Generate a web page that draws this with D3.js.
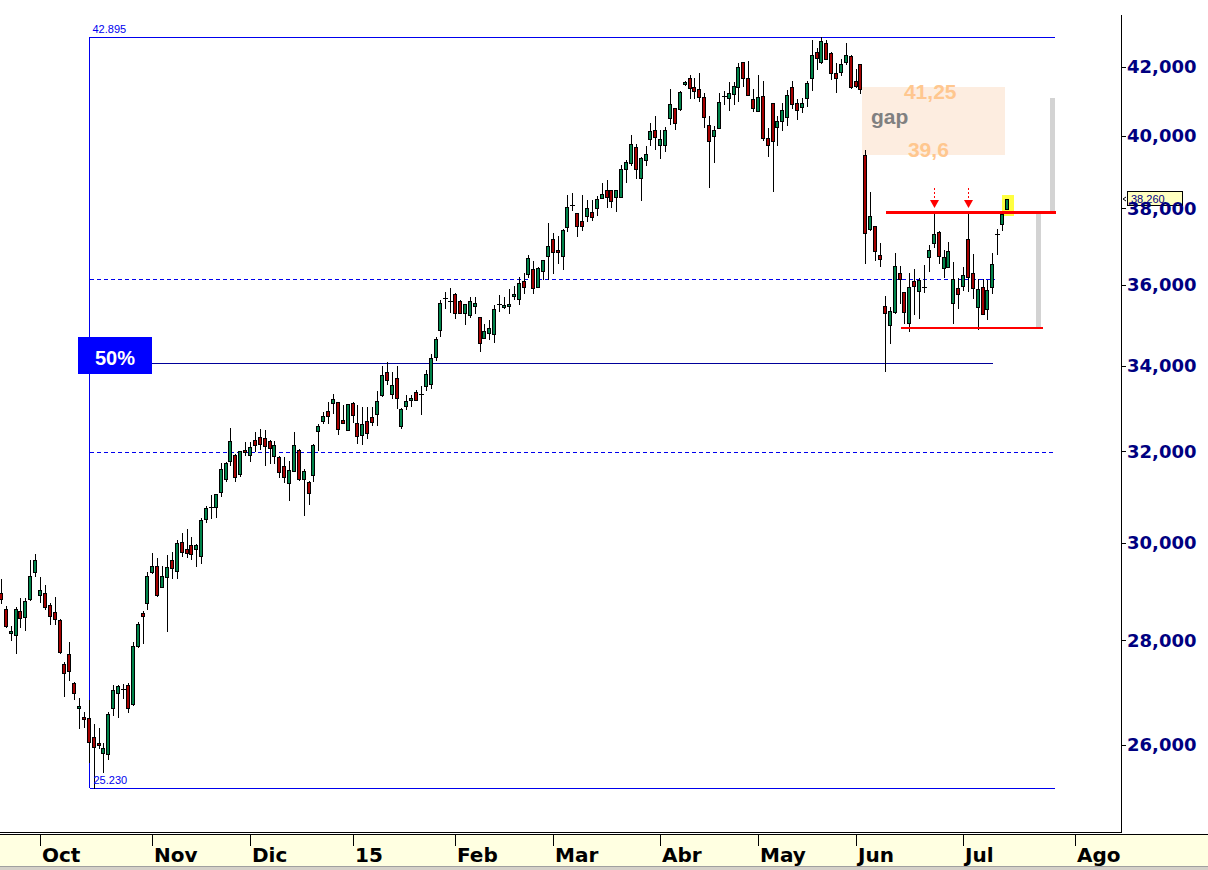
<!DOCTYPE html>
<html><head><meta charset="utf-8">
<script src="https://cdn.jsdelivr.net/npm/d3@7"></script>
<style>html,body{margin:0;padding:0;background:#fff;overflow:hidden}</style>
</head><body>
<svg id="chart" width="1208" height="870"></svg>
<script>
// ---------- DATA ----------
const openP = [28950,28630,28150,28110,28590,28470,28830,29390,28910,28950,
28710,28570,28410,27540,27730,27170,26690,26520,26500,26150,
26040,25860,25840,26690,26980,27050,27130,26770,27890,28550,
28750,29390,29510,29080,29280,29640,29410,30020,29870,29950,
29870,29720,30510,30750,30770,31100,31380,31790,31920,31500,
32040,31920,32260,32330,32310,32240,31900,31880,31670,31300,
31560,32040,31380,31320,31470,32470,32700,32930,33120,33140,
32720,32490,33120,32650,32380,32700,32790,32860,33310,33850,
33330,33710,32580,33050,33190,33380,33310,33520,33570,34210,
34870,35670,35600,35770,35600,35290,35240,35470,35190,34680,
34800,34770,35520,35440,35470,35720,35650,36100,36280,36410,
35950,36360,36750,37190,36900,36750,37510,38100,37880,37670,
37800,37910,38010,38280,38500,38500,38310,38310,39080,39240,
39690,38830,39330,39920,40170,39750,39750,40510,40800,40770,
41500,41670,41410,41350,41120,40310,40000,40230,41150,41090,
41210,41410,42150,41670,41060,40710,41150,39940,40940,40260,
40430,40540,41410,40940,40830,41090,41670,42450,42150,42720,
42420,41820,41850,42150,42330,41590,42090,39470,37450,37530,
36770,35470,35000,35320,36310,35820,35050,36100,35850,35950,
36720,37090,37380,36440,36460,35550,35920,35980,37190,36310,
35440,35950,35390,35950,37300,37590,37990];
const highP = [29240,28690,28290,28670,28850,28850,29640,29760,29280,29120,
28750,28870,28420,27580,27970,27190,26880,26620,26840,26390,
26320,26040,26620,27130,27130,27150,27170,27970,28370,28590,
29390,29780,29680,29510,29740,29810,30060,30210,30290,30120,
29980,30530,30790,31030,31060,31740,31760,32540,31940,32020,
32220,32220,32450,32510,32490,32260,32240,31890,31880,31790,
32450,32050,31610,31330,32170,32630,32910,33140,33330,33150,
33070,33100,33130,33070,33020,33020,33020,33400,34000,34090,
33850,34000,33000,33310,33310,33420,33520,33900,34290,34700,
35620,35820,35920,35800,35620,35530,35700,35700,35200,35020,
35120,35490,35750,35700,35900,35980,36200,36310,36770,36620,
36450,36650,37610,37350,37270,37440,38370,38420,37890,38370,
38230,38230,38340,38690,38780,38510,38510,39190,39330,40030,
39770,39410,39720,40370,40570,40170,40260,41350,40810,41290,
41590,41760,41670,41820,41240,40570,40280,41240,41290,41560,
41560,42120,42160,42180,41350,41760,41590,40230,40950,40570,
40940,41320,41590,41060,41090,41590,42810,42570,42895,42810,
42450,42120,42240,42720,42360,41940,42100,39610,38450,37540,
37090,35720,35440,36820,36490,35830,36310,36410,36180,36510,
37030,37850,37390,36900,37110,36590,36180,36460,37850,36800,
36150,36150,36130,36820,37450,37930,38260];
const lowP = [28750,28270,28010,27750,28270,28210,28810,29300,28770,28630,
28330,28330,27750,26920,27230,26860,26320,26340,25690,25230,
25950,25510,25750,26560,26520,26880,26620,26750,27870,27950,
28630,29370,28890,29070,28190,29260,29260,29720,29700,29660,
29510,29570,30450,30530,30550,31010,31340,31700,31340,31450,
31920,31790,32010,32060,31700,31740,31740,31430,31320,30920,
31550,31360,30600,30840,31340,32040,32650,32650,32880,32400,
32640,32480,32680,32190,32170,32310,32610,32610,33280,33570,
33240,33000,32540,32980,33050,33180,32860,33420,33470,34140,
34720,35420,35320,35170,35280,35020,35190,35290,34360,34670,
34650,34580,35340,35410,35290,35640,35520,35800,36200,35800,
35940,36150,36150,36310,36560,36410,37400,37960,37270,37430,
37670,37690,37830,38270,38040,38040,37930,38300,38720,39190,
38830,38230,39190,39750,39630,39380,39580,40340,40200,40740,
41470,41090,41090,41000,40260,38580,39270,40220,40920,40740,
40920,41000,41440,41170,40710,40700,39890,39440,38470,39750,
40170,40310,40800,40480,40690,40860,41320,41940,42120,42230,
41640,41260,41760,42090,41380,41410,41240,36560,37430,36640,
36490,33880,34550,35290,35550,35050,34850,35270,35170,35820,
36360,36980,36560,36200,36450,35050,35420,35870,35850,35670,
34900,35260,35140,35800,36800,37430,37980];
const closeP = [28830,28290,28190,28630,28450,28790,29300,29640,29020,28670,
28490,28430,27770,27360,27400,26980,26730,26490,26060,25970,
26000,25950,26580,27040,27110,27060,26690,27890,28330,28490,
29300,29510,28910,29300,29490,29470,30000,29810,29780,29760,
29950,30490,30750,30760,31050,31610,31740,32240,31430,32010,
31990,32100,32150,32170,32130,32080,32150,31540,31430,31590,
32150,31380,31560,31080,32150,32580,32820,32820,33210,32510,
32650,33090,32840,32350,32630,32420,32680,33160,33780,33660,
33540,33240,32980,33160,33240,33190,33320,33800,34190,34650,
35550,35680,35590,35290,35290,35520,35600,35550,34550,34850,
34920,35390,35530,35490,35520,35770,36050,35950,36690,35920,
36440,36640,37010,36850,36850,37430,38040,38090,37530,37530,
38010,37770,38260,38390,38310,38200,38500,39080,39270,39770,
39080,39380,39490,40140,39970,39920,40170,40920,40370,41260,
41560,41380,41290,41120,40540,39860,40170,40970,41140,41240,
41440,42000,41670,41180,40800,41120,39940,39750,39860,40430,
40740,41180,40920,40740,40940,41530,42360,42270,42780,42240,
41820,41670,42090,42360,41410,41440,41350,37350,37800,36880,
36670,35290,35340,36490,36150,35320,35950,35980,36130,35960,
36900,37320,36750,36720,36880,36150,35770,36260,36200,35920,
35900,35270,35870,36540,37310,37850,38260];

const holidays = ["2014-12-25","2014-12-26","2015-01-01","2015-04-03","2015-04-06","2015-05-01"];
const firstSession = "2014-09-19";
const monthLabels = ["Oct","Nov","Dic","15","Feb","Mar","Abr","May","Jun","Jul","Ago"];
const monthStartIdx = [8,31,51,72,93,113,135,155,175,197,220];
const yTicks = [26000,28000,30000,32000,34000,36000,38000,40000,42000];
const fibHigh = 42895, fibLow = 25230, fibStartIdx = 18;
const fibRatios = [0.382, 0.5, 0.618];
const gapTop = 41410, gapBottom = 39470;
const gapLabels = ["41,25","gap","39,6"];
const resistance = 37880, support = 34920;
const projectionTop = 41090;
const arrowIdx = [191, 198];
const lastPrice = 38260;

// ---------- SESSIONS (trading days) ----------
const dates = [];
{
  const d = new Date(firstSession + "T12:00:00Z");
  while (dates.length < closeP.length) {
    const s = d.toISOString().slice(0,10);
    const wd = d.getUTCDay();
    if (wd !== 0 && wd !== 6 && !holidays.includes(s)) dates.push(s);
    d.setUTCDate(d.getUTCDate() + 1);
  }
}
const candles = dates.map((dt,i)=>({date:dt,i,o:openP[i],h:highP[i],l:lowP[i],c:closeP[i]}));

// ---------- SCALES ----------
const svg = d3.select("#chart");
const plotRight = 1121, plotTop = 15, plotBottom = 832;
const y = d3.scaleLog().domain([26000, 42000]).range([745, 67]);
const x = d3.scaleLinear().domain([0, candles.length - 1]).range([0.93, 1007]);
const px = i => Math.round(x(i));
const py = v => Math.round(y(v));

svg.append("rect").attr("width",1208).attr("height",870).attr("fill","#ffffff");

const g = svg.append("g").attr("shape-rendering","crispEdges");

// gap box
g.append("rect").attr("x", x(176.3)).attr("y", y(gapTop))
  .attr("width", x(205.6) - x(176.3)).attr("height", y(gapBottom) - y(gapTop))
  .attr("fill", "#fdede0");

// projection bars
g.append("rect").attr("x", px(215.3) - 2).attr("y", y(projectionTop))
  .attr("width", 5).attr("height", y(resistance) - y(projectionTop)).attr("fill", "#d3d3d3");
g.append("rect").attr("x", px(212.4) - 2).attr("y", y(resistance))
  .attr("width", 5).attr("height", y(support) - y(resistance)).attr("fill", "#d3d3d3");

// fibonacci frame
const fx0 = px(fibStartIdx) + 0.5, fx1 = 1055;
const blue = "#0000ee";
g.append("line").attr("x1", fx0).attr("x2", fx1).attr("y1", py(fibHigh)+0.5).attr("y2", py(fibHigh)+0.5).attr("stroke", blue);
g.append("line").attr("x1", fx0).attr("x2", fx1).attr("y1", py(fibLow)+0.5).attr("y2", py(fibLow)+0.5).attr("stroke", blue);
g.append("line").attr("x1", fx0).attr("x2", fx0).attr("y1", py(fibHigh)).attr("y2", py(fibLow)).attr("stroke", blue);
const fibLevels = fibRatios.map(r => fibHigh - r * (fibHigh - fibLow));
const fibEnds = [995, 993, 1055];
fibLevels.forEach((v, k) => {
  const ln = g.append("line").attr("x1", fx0).attr("x2", fibEnds[k])
    .attr("y1", py(v) + 0.5).attr("y2", py(v) + 0.5);
  if (k === 1) ln.attr("stroke", "#00009a");
  else ln.attr("stroke", blue).attr("stroke-dasharray", "4,3");
});

// highlight last candle
const lastI = candles.length - 1;
g.append("rect").attr("x", px(lastI) - 5).attr("y", py(lastPrice) - 4)
  .attr("width", 12).attr("height", 21).attr("fill", "#ffff40");

// candles
const green = "#00834a", red = "#a50000";
const cg = g.append("g");
candles.forEach(d => {
  const cx = px(d.i);
  cg.append("line").attr("x1", cx + 0.5).attr("x2", cx + 0.5)
    .attr("y1", py(d.h)).attr("y2", py(d.l) + 1).attr("stroke", "#000");
  const top = py(Math.max(d.o, d.c)), bot = py(Math.min(d.o, d.c));
  const hgt = bot - top;
  if (hgt < 2) {
    cg.append("line").attr("x1", cx - 2).attr("x2", cx + 3)
      .attr("y1", top + 0.5).attr("y2", top + 0.5).attr("stroke", "#000");
  } else {
    cg.append("rect").attr("x", cx - 1.5).attr("y", top + 0.5)
      .attr("width", 3).attr("height", hgt)
      .attr("fill", d.c >= d.o ? green : red).attr("stroke", "#000");
  }
});

// support / resistance
g.append("line").attr("x1", x(181.2)).attr("x2", x(216)).attr("y1", y(resistance)).attr("y2", y(resistance))
  .attr("stroke", "#ff0000").attr("stroke-width", 3);
g.append("line").attr("x1", x(184.3)).attr("x2", x(213.4)).attr("y1", py(support)).attr("y2", py(support))
  .attr("stroke", "#ff0000").attr("stroke-width", 2);

// arrows
arrowIdx.forEach(i => {
  const cx = px(i) + 0.5;
  g.append("line").attr("x1", cx).attr("x2", cx).attr("y1", 188).attr("y2", 201)
    .attr("stroke", "#ff0000").attr("stroke-dasharray", "2,2");
  svg.append("path").attr("d", `M${cx-4.5},200 L${cx+4.5},200 L${cx},208 Z`).attr("fill", "#ff0000");
});

// texts
const t = svg.append("g");
t.append("text").attr("x", fx0 + 3).attr("y", py(fibHigh) - 4).text(d3.format(",.3f")(fibHigh/1000).replace(",", ""))
  .attr("font-family", "Liberation Sans, Arial, sans-serif").attr("font-size", 11).attr("fill", blue);
t.append("text").attr("x", fx0 + 4).attr("y", py(fibLow) - 4).text(d3.format(".3f")(fibLow/1000))
  .attr("font-family", "Liberation Sans, Arial, sans-serif").attr("font-size", 11).attr("fill", blue);

// 50% box
const y50 = py(fibLevels[1]);
g.append("rect").attr("x", fx0 - 11.5).attr("y", y50 - 26).attr("width", 74).attr("height", 37).attr("fill", "#0000ff");
t.append("text").attr("x", fx0 - 11.5 + 37).attr("y", y50 + 2).attr("text-anchor", "middle")
  .text("50%").attr("font-family", "Liberation Sans, Arial, sans-serif").attr("font-weight", "bold")
  .attr("font-size", 20).attr("fill", "#fff");

// gap labels
const gx = x(176.3);
t.append("text").attr("x", gx + 42).attr("y", y(gapTop) + 12).text(gapLabels[0])
  .attr("font-family", "Liberation Sans, Arial, sans-serif").attr("font-weight", "bold").attr("font-size", 21).attr("fill", "#ffc78f");
t.append("text").attr("x", gx + 9).attr("y", y(gapTop) + 37).text(gapLabels[1])
  .attr("font-family", "Liberation Sans, Arial, sans-serif").attr("font-weight", "bold").attr("font-size", 21).attr("fill", "#808080");
t.append("text").attr("x", gx + 46).attr("y", y(gapBottom) + 2).text(gapLabels[2])
  .attr("font-family", "Liberation Sans, Arial, sans-serif").attr("font-weight", "bold").attr("font-size", 21).attr("fill", "#ffc78f");

// ---------- RIGHT AXIS ----------
const ax = svg.append("g").attr("shape-rendering", "crispEdges");
ax.append("line").attr("x1", plotRight + 0.5).attr("x2", plotRight + 0.5).attr("y1", plotTop).attr("y2", plotBottom + 1).attr("stroke", "#000");
yTicks.forEach(v => {
  ax.append("line").attr("x1", plotRight).attr("x2", plotRight + 5).attr("y1", py(v) + 0.5).attr("y2", py(v) + 0.5).attr("stroke", "#000");
  svg.append("text").attr("x", plotRight + 6).attr("y", y(v)).attr("dy", "0.36em")
    .text(d3.format(",")(v)).attr("font-family", "DejaVu Sans, Verdana, sans-serif")
    .attr("font-weight", "bold").attr("font-size", 18).attr("fill", "#000080");
});
// last price tag
const ly = py(lastPrice);
ax.append("rect").attr("x", 1127.5).attr("y", ly - 7.5).attr("width", 55).attr("height", 14)
  .attr("fill", "#ffffc0").attr("stroke", "#000");
svg.append("text").attr("x", 1131).attr("y", ly + 4).text(d3.format(",")(lastPrice))
  .attr("font-family", "Liberation Sans, Arial, sans-serif").attr("font-size", 11).attr("fill", "#000080");
svg.append("path").attr("d", `M1126,${ly-2} L1123,${ly} L1126,${ly+2}`).attr("fill", "none").attr("stroke", "#000");

// ---------- BOTTOM AXIS ----------
const bx = svg.append("g").attr("shape-rendering", "crispEdges");
bx.append("rect").attr("x", 0).attr("y", 835).attr("width", 1208).attr("height", 31).attr("fill", "#ffffe1");
bx.append("line").attr("x1", 0).attr("x2", plotRight + 1).attr("y1", plotBottom + 0.5).attr("y2", plotBottom + 0.5).attr("stroke", "#000");
bx.append("line").attr("x1", 0).attr("x2", 1208).attr("y1", 834.5).attr("y2", 834.5).attr("stroke", "#000");
bx.append("rect").attr("x", 0).attr("y", 866).attr("width", 1208).attr("height", 4).attr("fill", "#d4d0c8");
bx.append("line").attr("x1", 0).attr("x2", 1208).attr("y1", 866.5).attr("y2", 866.5).attr("stroke", "#a0a0a0");
monthLabels.forEach((m, k) => {
  const mx = px(monthStartIdx[k]);
  bx.append("line").attr("x1", mx + 0.5).attr("x2", mx + 0.5).attr("y1", 835).attr("y2", 846).attr("stroke", "#000");
  svg.append("text").attr("x", mx + 2).attr("y", 862).text(m)
    .attr("font-family", "DejaVu Sans, Verdana, sans-serif").attr("font-weight", "bold")
    .attr("font-size", 20).attr("fill", "#000");
});
</script>
</body></html>
